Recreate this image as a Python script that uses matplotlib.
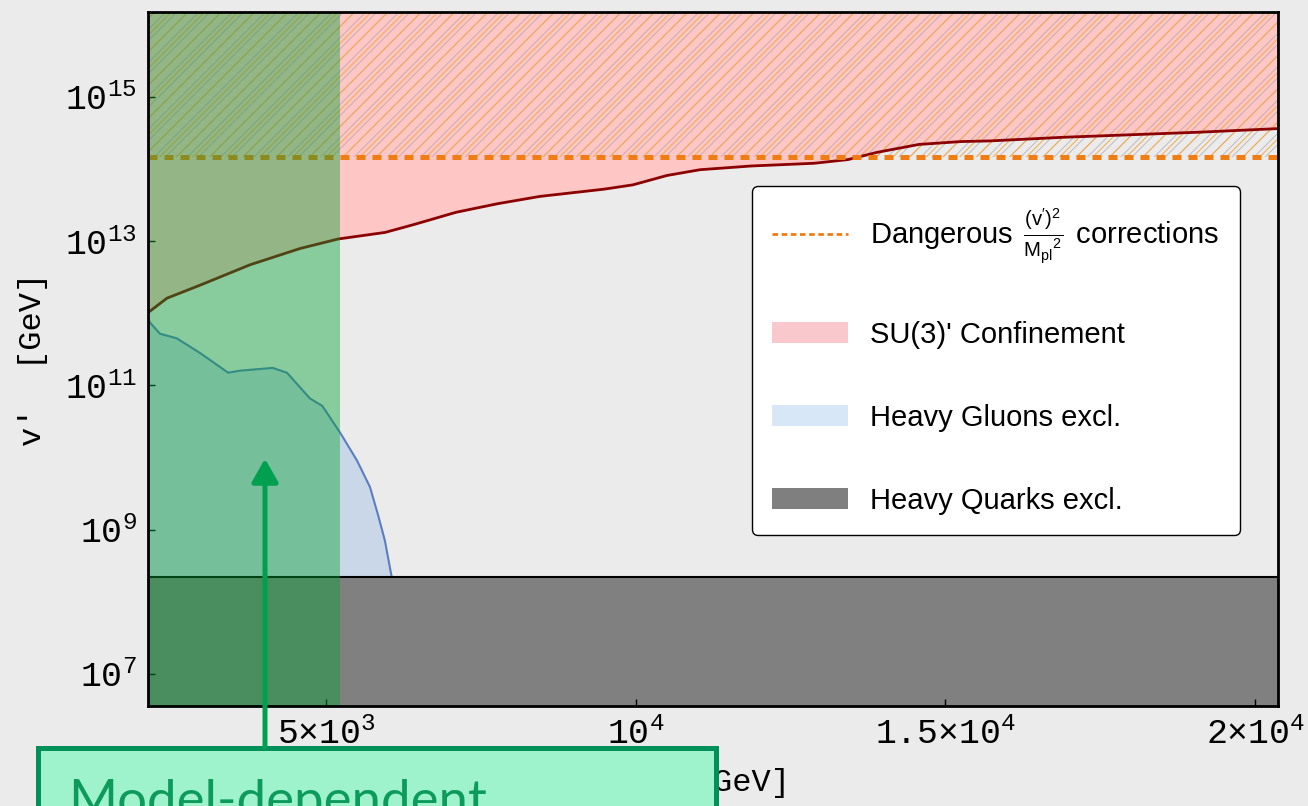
import matplotlib
matplotlib.use("Agg")
import matplotlib.pyplot as plt
from matplotlib.patches import Patch, Rectangle, FancyArrowPatch
from matplotlib.lines import Line2D

plt.rcParams['mathtext.fontset'] = 'custom'
plt.rcParams['mathtext.rm'] = 'Liberation Mono'
plt.rcParams['mathtext.it'] = 'Liberation Mono:italic'
plt.rcParams['mathtext.sf'] = 'Liberation Sans'
plt.rcParams['hatch.linewidth'] = 0.7

# SU(3)' confinement boundary (excluded above)
conf_mass = [2126, 2433, 2966, 3773, 4580, 5194, 5953, 6421, 7099, 7777, 8455,
             9488, 9956, 10505, 11038, 11861, 12879, 13428, 13896, 14574, 15252,
             15720, 16899, 19111, 20370]
conf_vev = [1.02e12, 1.62e12, 2.45e12, 4.7e12, 7.9e12, 1.07e13, 1.32e13, 1.70e13,
            2.51e13, 3.31e13, 4.17e13, 5.25e13, 6.03e13, 8.13e13, 9.77e13, 1.10e14,
            1.20e14, 1.35e14, 1.70e14, 2.19e14, 2.40e14, 2.45e14, 2.75e14, 3.24e14,
            3.63e14]

# heavy gluon exclusion (excluded below)
gluon_mass = [2126, 2160, 2320, 2590, 2970, 3420, 3610, 4140, 4370, 4740, 4940,
              5230, 5500, 5710, 5840, 5950, 6070]
gluon_vev = [8.5e11, 7.4e11, 5.2e11, 4.5e11, 2.8e11, 1.5e11, 1.6e11, 1.75e11,
             1.5e11, 6.6e10, 5.2e10, 2.2e10, 9.1e9, 3.9e9, 1.6e9, 7.1e8, 2.0e8]

quark_vev = 2.2e8        # heavy quark exclusion (below)
planck_vev = 1.45e14     # dangerous (v')^2/Mpl^2 corrections (above)
model_dep_mass = 5226    # model-dependent region (left)

x_min, x_max = 2126, 20370
y_min, y_max = 3.6e6, 1.5e16

xtick_vals = [5000, 10000, 15000, 20000]
xtick_labels = [r'$5{\times}10^{3}$', r'$10^{4}$', r'$1.5{\times}10^{4}$', r'$2{\times}10^{4}$']
ytick_vals = [1e7, 1e9, 1e11, 1e13, 1e15]
ytick_labels = [r'$10^{7}$', r'$10^{9}$', r'$10^{11}$', r'$10^{13}$', r'$10^{15}$']

bg = '#ebebeb'
orange = '#f07c14'

fig = plt.figure(figsize=(13.08, 8.06), dpi=100, facecolor=bg)
ax = fig.add_axes([148 / 1308, 1 - 706 / 806, 1130 / 1308, 694 / 806])
ax.set_facecolor(bg)
ax.set_yscale('log')
ax.set_xlim(x_min, x_max)
ax.set_ylim(y_min, y_max)

# confinement region
ax.fill_between(conf_mass, conf_vev, y_max, color='#ffc6c6', lw=0, zorder=1)
ax.plot(conf_mass, conf_vev, color='#8b0000', lw=2, zorder=1.7)

# hatched region above the planck line
ax.fill_between([x_min, x_max], planck_vev, y_max, facecolor='none',
                edgecolor='#f5a94a', hatch='//', lw=0, zorder=1.2)
ax.fill_between([x_min, x_max], planck_vev, y_max, facecolor='none',
                edgecolor='#a89a9a', hatch='///', lw=0, zorder=1.1, alpha=0.6)
ax.axhline(planck_vev, color=orange, lw=3.6, dashes=(1.8, 1.4), zorder=1.8)

# heavy gluons
ax.fill_between(gluon_mass, y_min, gluon_vev, color='#aac4e8', alpha=0.5, lw=0, zorder=1.3)
ax.plot(gluon_mass, gluon_vev, color='#5a7ec0', lw=1.5, zorder=1.4)

# heavy quarks
ax.axhspan(y_min, quark_vev, color='#808080', lw=0, zorder=1.5)
ax.axhline(quark_vev, color='black', lw=1.5, zorder=1.6)

# model-dependent overlay
ax.axvspan(x_min, model_dep_mass, color='#00a030', alpha=0.42, lw=0, zorder=2.2)

ax.set_xticks(xtick_vals)
ax.set_xticklabels(xtick_labels)
ax.set_yticks(ytick_vals)
ax.set_yticklabels(ytick_labels)
ax.minorticks_off()
ax.tick_params(direction='in', length=5, width=1, labelsize=25, top=False, right=False)
ax.tick_params(axis='x', pad=8)
ax.tick_params(axis='y', pad=8)
for sp in ax.spines.values():
    sp.set_linewidth(2)

ax.set_ylabel("v'  [GeV]", family='Liberation Mono', fontsize=23, labelpad=12)
ax.set_xlabel("M' [GeV]", family='Liberation Mono', fontsize=23, labelpad=12)

handles = [
    Line2D([], [], color=orange, lw=2, dashes=(2.0, 1.3)),
    Patch(facecolor='#f9c8cc', edgecolor='none'),
    Patch(facecolor='#d8e7f8', edgecolor='none'),
    Patch(facecolor='#7f7f7f', edgecolor='none'),
]
labels = [
    r"Dangerous $\,\mathsf{\frac{(v')^2}{{M_{pl}}^2}}\,$ corrections",
    "SU(3)' Confinement",
    "Heavy Gluons excl.",
    "Heavy Quarks excl.",
]
leg = ax.legend(handles, labels, loc='upper left', bbox_to_anchor=(0.5345, 0.749),
                borderaxespad=0, prop={'family': 'Liberation Sans', 'size': 21},
                handlelength=2.6, handleheight=0.7, handletextpad=0.75,
                labelspacing=1.88, borderpad=0.7, fancybox=True, framealpha=1,
                edgecolor='black', facecolor='white')
leg.get_frame().set_linewidth(1)
leg.set_zorder(5)

# annotation box and arrow on top
fig.add_artist(Rectangle((38 / 1308, -0.1), (716 - 38) / 1308, 0.1 + (1 - 748 / 806),
                         transform=fig.transFigure, facecolor='#9ef2cc',
                         edgecolor='#00915a', lw=3.6, zorder=3))
fig.text(68 / 1308, 1 - 817 / 806, 'Model-dependent', family='Lato', fontsize=38,
         color='#0d9b5c', va='baseline', ha='left', zorder=4)
fig.add_artist(FancyArrowPatch((265 / 1308, 1 - 750 / 806), (265 / 1308, 1 - 456 / 806),
                               transform=fig.transFigure,
                               arrowstyle='-|>,head_length=1.4,head_width=0.8',
                               mutation_scale=10, lw=3.6, color='#00a050', zorder=4))

fig.savefig('out.png', dpi=100, facecolor=bg)
